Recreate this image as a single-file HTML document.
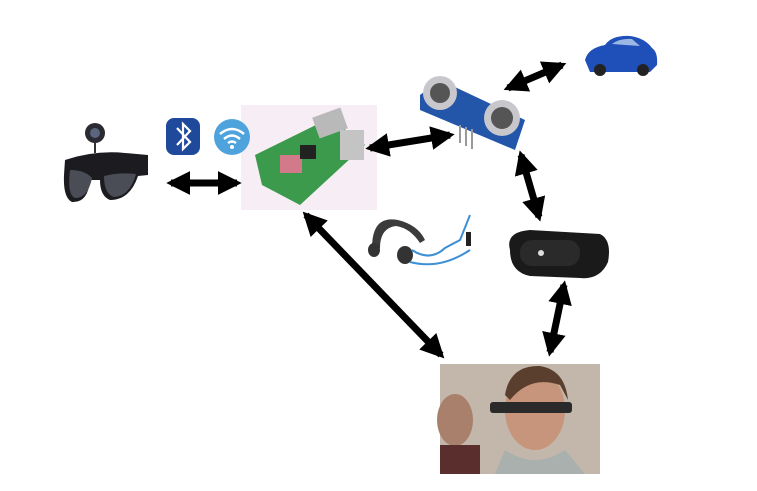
<!DOCTYPE html>
<html><head><meta charset="utf-8"><style>
html,body{margin:0;padding:0;background:#fff;width:757px;height:491px;overflow:hidden}
</style></head><body>
<svg width="757" height="491" viewBox="0 0 757 491" xmlns="http://www.w3.org/2000/svg">
<defs>
<marker id="ah" viewBox="0 0 10 10" refX="8" refY="5" markerWidth="3.4" markerHeight="3.4" orient="auto-start-reverse" markerUnits="strokeWidth">
<path d="M0,0 L10,5 L0,10 Z" fill="#000"/></marker>
</defs>
<rect width="757" height="491" fill="#fff"/>
<!-- glasses -->
<circle cx="95" cy="133" r="10" fill="#2a2a30"/><circle cx="95" cy="133" r="5" fill="#5a6580"/>
<line x1="95" y1="143" x2="95" y2="153" stroke="#333" stroke-width="2"/>
<path d="M65,160 Q95,150 125,153 L148,155 L148,175 L138,176 Q130,200 110,200 Q100,196 100,180 L90,180 Q88,203 72,202 Q63,198 64,175 Z" fill="#1c1c20"/>
<path d="M70,170 Q85,170 92,178 Q88,198 75,198 Q67,195 70,170Z" fill="#4a4d55"/>
<path d="M104,176 Q120,172 136,174 Q130,196 114,197 Q104,194 104,176Z" fill="#4a4d55"/>
<!-- pi -->
<rect x="241" y="105" width="136" height="105" fill="#f7eef5"/>
<path d="M255,155 L330,118 L365,145 L300,205 L262,185 Z" fill="#3c9a4c"/>
<rect x="315" y="112" width="30" height="22" fill="#b9b9b9" transform="rotate(-20 330 123)"/>
<rect x="340" y="130" width="24" height="30" fill="#c4c4c4"/>
<rect x="280" y="155" width="22" height="18" fill="#d27a8a"/>
<rect x="300" y="145" width="16" height="14" fill="#222"/>
<!-- bluetooth -->
<rect x="166" y="118" width="34" height="37" rx="8" fill="#1f4a9c"/>
<path d="M177,128 L190,142 L183,149 L183,124 L190,131 L177,145" fill="none" stroke="#fff" stroke-width="2.2"/>
<!-- wifi -->
<circle cx="232" cy="137" r="18" fill="#4fa3dc"/>
<path d="M220,134 Q232,124 244,134 M224,139 Q232,132 240,139 M228,143 Q232,140 236,143" fill="none" stroke="#fff" stroke-width="2.5"/>
<circle cx="232" cy="147" r="2" fill="#fff"/>
<!-- sensor -->
<path d="M420,95 L440,80 L525,120 L515,150 L420,110 Z" fill="#2356a8"/>
<circle cx="440" cy="93" r="17" fill="#c8c8cc"/><circle cx="440" cy="93" r="10" fill="#555"/>
<circle cx="502" cy="118" r="18" fill="#c8c8cc"/><circle cx="502" cy="118" r="11" fill="#555"/>
<line x1="460" y1="125" x2="460" y2="143" stroke="#999" stroke-width="2"/>
<line x1="466" y1="127" x2="466" y2="146" stroke="#999" stroke-width="2"/>
<line x1="472" y1="129" x2="472" y2="149" stroke="#999" stroke-width="2"/>
<!-- car -->
<path d="M585,60 Q588,48 605,45 Q612,35 630,36 Q645,38 652,48 Q658,52 657,65 L650,72 L590,72 Z" fill="#1f4fb8"/>
<path d="M612,44 Q620,38 632,39 L640,46 Z" fill="#9bb7e3"/>
<circle cx="600" cy="70" r="6" fill="#222"/><circle cx="643" cy="70" r="6" fill="#222"/>
<!-- band -->
<path d="M510,250 Q505,232 530,230 L600,234 Q612,240 608,262 Q600,280 580,278 L530,276 Q510,272 510,250Z" fill="#1a1a1a"/>
<rect x="520" y="240" width="60" height="26" rx="12" fill="#2a2a2a"/>
<circle cx="541" cy="253" r="3" fill="#ddd"/>
<!-- headphones -->
<path d="M372,248 Q372,215 398,220 Q418,225 425,240 L420,243 Q410,228 396,226 Q380,228 380,248 Z" fill="#3b3b3b"/>
<ellipse cx="374" cy="250" rx="6" ry="7" fill="#333"/>
<ellipse cx="405" cy="255" rx="8" ry="9" fill="#333"/>
<path d="M412,250 Q430,262 445,248 L460,240 L470,215 M410,262 Q440,270 470,250" fill="none" stroke="#3d8fd6" stroke-width="2"/>
<rect x="466" y="232" width="5" height="14" fill="#222"/>
<!-- photo -->
<rect x="440" y="364" width="160" height="110" fill="#b7aa9b"/>
<rect x="440" y="364" width="160" height="110" fill="#c9c0b4" opacity="0.6"/>
<ellipse cx="455" cy="420" rx="18" ry="26" fill="#a8806c"/>
<rect x="440" y="445" width="40" height="29" fill="#5b2e2e"/>
<ellipse cx="535" cy="410" rx="30" ry="40" fill="#c7957b"/>
<path d="M505,395 Q510,365 540,366 Q565,370 568,400 L560,385 Q530,375 510,400Z" fill="#5a3f2e"/>
<rect x="490" y="402" width="82" height="11" rx="3" fill="#2a2a2a"/>
<path d="M505,450 Q535,470 565,450 L585,474 L495,474Z" fill="#a9b0ae"/>
<!-- arrows -->
<g stroke="#000" stroke-width="7" fill="none">
<line x1="171" y1="183" x2="237" y2="183" marker-start="url(#ah)" marker-end="url(#ah)"/>
<line x1="370" y1="148" x2="450" y2="135" marker-start="url(#ah)" marker-end="url(#ah)"/>
<line x1="508" y1="88" x2="562" y2="65" marker-start="url(#ah)" marker-end="url(#ah)"/>
<line x1="521" y1="155" x2="539" y2="217" marker-start="url(#ah)" marker-end="url(#ah)"/>
<line x1="564" y1="285" x2="550" y2="352" marker-start="url(#ah)" marker-end="url(#ah)"/>
<line x1="306" y1="215" x2="441" y2="355" marker-start="url(#ah)" marker-end="url(#ah)"/>
</g>
</svg>
</body></html>
